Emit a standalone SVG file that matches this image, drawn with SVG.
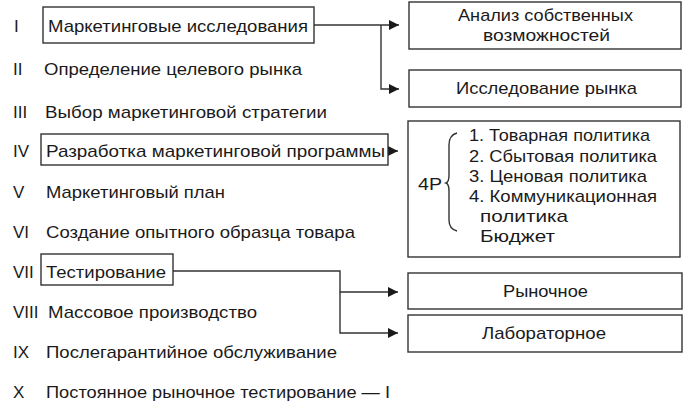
<svg xmlns="http://www.w3.org/2000/svg" width="683" height="411" viewBox="0 0 683 411">
<style>
text{font-family:"Liberation Sans",Arial,sans-serif;font-size:17px;fill:#1a1a1a}
.box{fill:#fff;stroke:#333;stroke-width:1.4}
.ln{fill:none;stroke:#333;stroke-width:1.4}
</style>
<defs>
<marker id="ah" markerWidth="10" markerHeight="10" refX="10" refY="5" orient="auto" markerUnits="userSpaceOnUse">
<path d="M0,0 L10,5 L0,10 Z" fill="#1a1a1a"/>
</marker>
</defs>
<rect width="683" height="411" fill="#fff"/>
<g id="connectors">
<path class="ln" d="M314,25 H399" marker-end="url(#ah)"/>
<path class="ln" d="M381,25 V89 H399" marker-end="url(#ah)"/>
<path class="ln" d="M388,151 H398" marker-end="url(#ah)"/>
<path class="ln" d="M173,271 H340 V292 H398" marker-end="url(#ah)"/>
<path class="ln" d="M340,292 V333 H398" marker-end="url(#ah)"/>
</g>
<g id="n1"><text x="14" y="32">I</text><rect class="box" x="43" y="7" width="271" height="36"/><text x="48" y="32" textLength="260" lengthAdjust="spacingAndGlyphs">Маркетинговые исследования</text></g>
<g id="n2"><text x="13" y="75">II</text><text x="44" y="75" textLength="258" lengthAdjust="spacingAndGlyphs">Определение целевого рынка</text></g>
<g id="n3"><text x="13" y="118">III</text><text x="45" y="118" textLength="282" lengthAdjust="spacingAndGlyphs">Выбор маркетинговой стратегии</text></g>
<g id="n4"><text x="13" y="157">IV</text><rect class="box" x="41" y="134" width="347" height="31"/><text x="46" y="157" textLength="339" lengthAdjust="spacingAndGlyphs">Разработка маркетинговой программы</text></g>
<g id="n5"><text x="13" y="198">V</text><text x="46" y="198" textLength="179" lengthAdjust="spacingAndGlyphs">Маркетинговый план</text></g>
<g id="n6"><text x="13" y="238">VI</text><text x="46" y="238" textLength="309" lengthAdjust="spacingAndGlyphs">Создание опытного образца товара</text></g>
<g id="n7"><text x="13" y="278">VII</text><rect class="box" x="41" y="254" width="132" height="31"/><text x="46" y="278" textLength="120" lengthAdjust="spacingAndGlyphs">Тестирование</text></g>
<g id="n8"><text x="13" y="318">VIII</text><text x="48" y="318" textLength="209" lengthAdjust="spacingAndGlyphs">Массовое производство</text></g>
<g id="n9"><text x="13" y="358">IX</text><text x="46" y="358" textLength="291" lengthAdjust="spacingAndGlyphs">Послегарантийное обслуживание</text></g>
<g id="n10"><text x="13" y="398">X</text><text x="46" y="398" textLength="344" lengthAdjust="spacingAndGlyphs">Постоянное рыночное тестирование — I</text></g>
<g id="r1"><rect class="box" x="409" y="2" width="272" height="47"/><text x="458" y="21" textLength="175" lengthAdjust="spacingAndGlyphs">Анализ собственных</text><text x="483" y="41" textLength="127" lengthAdjust="spacingAndGlyphs">возможностей</text></g>
<g id="r2"><rect class="box" x="409" y="70" width="272" height="37"/><text x="456" y="94" textLength="181" lengthAdjust="spacingAndGlyphs">Исследование рынка</text></g>
<g id="r3"><rect class="box" x="408" y="121" width="272" height="136"/>
<text x="418" y="190" textLength="24" lengthAdjust="spacingAndGlyphs">4P</text>
<path class="ln" d="M457,133 Q449,135 449,145 V175 Q449,182 446,183 Q449,184 449,191 V220 Q449,229 457,231" stroke-width="1.1"/>
<text x="469" y="141" textLength="181" lengthAdjust="spacingAndGlyphs">1. Товарная политика</text>
<text x="469" y="162" textLength="188" lengthAdjust="spacingAndGlyphs">2. Сбытовая политика</text>
<text x="469" y="182" textLength="178" lengthAdjust="spacingAndGlyphs">3. Ценовая политика</text>
<text x="469" y="202" textLength="188" lengthAdjust="spacingAndGlyphs">4. Коммуникационная</text>
<text x="480" y="222" textLength="88" lengthAdjust="spacingAndGlyphs">политика</text>
<text x="480" y="242" textLength="75" lengthAdjust="spacingAndGlyphs">Бюджет</text></g>
<g id="r4"><rect class="box" x="408" y="273" width="274" height="36"/><text x="503" y="297" textLength="85" lengthAdjust="spacingAndGlyphs">Рыночное</text></g>
<g id="r5"><rect class="box" x="408" y="315" width="274" height="37"/><text x="482" y="339" textLength="124" lengthAdjust="spacingAndGlyphs">Лабораторное</text></g>
</svg>
